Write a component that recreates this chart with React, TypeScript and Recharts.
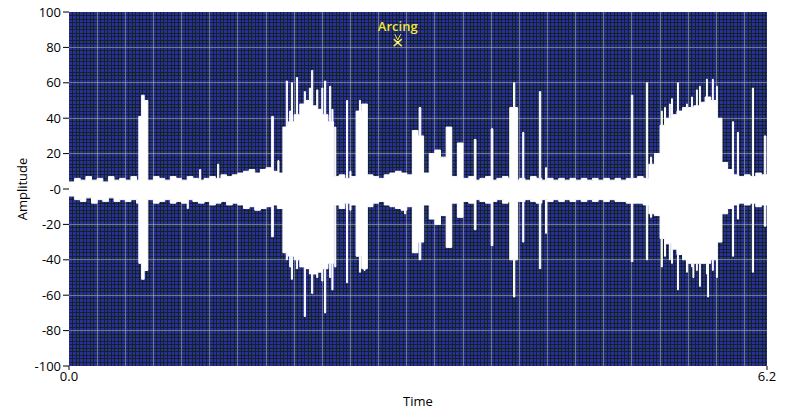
import {
  ComposedChart,
  Area,
  XAxis,
  YAxis,
  CartesianGrid,
  ReferenceDot,
} from "recharts";

// base noise band, one value per 0.05 s slot
const STEP = 0.05;
const bandHi = [
  4, 6, 5, 7, 5, 6, 4, 7, 5, 6,
  5, 7, 5, 6, 5, 7, 6, 5, 7, 6,
  5, 7, 6, 5, 6, 7, 6, 8, 7, 8,
  9, 10, 11, 9, 11, 12, 10, 9, 35, 38,
  42, 48, 50, 47, 45, 42, 38, 7, 8, 6,
  7, 44, 48, 8, 7, 6, 8, 9, 10, 9,
  8, 33, 30, 9, 20, 22, 18, 35, 7, 26,
  6, 7, 5, 6, 7, 5, 6, 7, 6, 5,
  6, 5, 7, 6, 5, 6, 5, 6, 5, 6,
  5, 6, 5, 6, 5, 6, 5, 6, 5, 6,
  6, 7, 6, 14, 20, 36, 40, 42, 44, 46,
  46, 47, 49, 52, 50, 40, 15, 11, 8, 7,
  8, 7, 9, 8,
];
const bandLo = [
  -4, -6, -7, -5, -8, -6, -7, -5, -7, -6,
  -7, -6, -8, -7, -6, -8, -7, -6, -8, -7,
  -8, -6, -7, -8, -7, -9, -8, -7, -9, -8,
  -9, -11, -10, -12, -11, -10, -9, -11, -36, -38,
  -40, -44, -45, -48, -47, -45, -42, -9, -11, -8,
  -9, -38, -45, -10, -8, -7, -9, -10, -11, -12,
  -10, -36, -30, -9, -17, -20, -15, -33, -8, -16,
  -7, -8, -6, -7, -8, -7, -6, -8, -7, -7,
  -7, -6, -7, -8, -6, -7, -6, -7, -6, -7,
  -6, -7, -6, -7, -6, -7, -6, -7, -7, -8,
  -8, -8, -9, -14, -15, -28, -31, -34, -37, -40,
  -42, -42, -42, -42, -40, -30, -14, -11, -9, -8,
  -9, -8, -10, -9,
];

// individual spikes: start, end (s), peak high, peak low
const spikeStart = [
  0.62, 0.645, 0.668, 1.05, 1.16, 1.32, 1.8, 1.855,
  1.93, 1.96, 1.975, 2.02, 2.09, 2.135, 2.155, 2.2, 2.245, 2.27, 2.315, 2.335, 2.36,
  2.465, 2.495, 2.58, 2.62, 2.98,
  3.11, 3.6, 3.75, 3.915, 3.948, 4.03, 4.178, 4.233,
  4.995, 5.128, 5.165,
  5.262, 5.29, 5.333, 5.352, 5.405, 5.485, 5.53, 5.542, 5.573, 5.6, 5.662, 5.673, 5.715, 5.751,
  5.893, 5.937, 6.07, 6.176,
];
const spikeEnd = [
  0.645, 0.668, 0.7, 1.06, 1.17, 1.33, 1.815, 1.865,
  1.94, 1.97, 1.985, 2.03, 2.1, 2.145, 2.165, 2.21, 2.255, 2.28, 2.325, 2.345, 2.37,
  2.475, 2.505, 2.59, 2.63, 2.99,
  3.125, 3.615, 3.765, 3.985, 3.96, 4.04, 4.19, 4.243,
  5.008, 5.14, 5.175,
  5.27, 5.298, 5.341, 5.36, 5.413, 5.493, 5.538, 5.55, 5.581, 5.608, 5.67, 5.681, 5.723, 5.759,
  5.903, 5.947, 6.08, 6.19,
];
const spikeHi = [
  41, 53, 50, 0, 11, 14, 41, 16,
  61, 44, 60, 63, 55, 57, 67, 56, 57, 61, 58, 45, 35,
  50, 10, 50, 47, 0,
  46, 28, 34, 46, 60, 32, 55, 12,
  53, 60, 18,
  44, 46, 48, 51, 60, 48, 52, 45, 56, 58, 62, 50, 62, 58,
  38, 32, 57, 30,
];
const spikeLo = [
  -42, -51, -46, -11, 0, 0, -27, -10,
  -40, -44, -51, -45, -72, -48, -59, -50, -52, -70, -50, -57, -44,
  -53, -12, -47, -46, -14,
  -40, -23, -32, -40, -61, -30, -45, -25,
  -41, -40, -16,
  -44, -38, -40, -42, -57, -47, -44, -50, -46, -55, -48, -61, -46, -50,
  -38, -17, -47, -21,
];

const T_MAX = 6.2;
const yTicks = [-100, -80, -60, -40, -20, 0, 20, 40, 60, 80, 100];
const xTicks = [0, 6.2];
const ARC_T = 2.92;
const ARC_V = 83;

// grid divisions: major every 0.25 s / 20 units, 8 and 10 minor steps inside
const MAJOR_X = 0.25;
const MAJOR_Y = 20;

function bandAt(t: number) {
  const i = Math.min(bandHi.length - 1, Math.floor(t / STEP + 1e-9));
  return [bandLo[i], bandHi[i]];
}

function valueAt(t: number) {
  let [lo, hi] = bandAt(t);
  for (let s = 0; s < spikeStart.length; s++) {
    if (t >= spikeStart[s] - 1e-9 && t < spikeEnd[s] - 1e-9) {
      lo = Math.min(lo, spikeLo[s]);
      hi = Math.max(hi, spikeHi[s]);
    }
  }
  return [lo, hi];
}

const breaks = Array.from(
  new Set([
    ...bandHi.map((_, i) => +(i * STEP).toFixed(4)),
    ...spikeStart,
    ...spikeEnd,
    T_MAX,
  ])
).sort((a, b) => a - b);

const data = breaks.map((t) => ({ t, range: valueAt(t) }));

// crisp 1px grid lines
const crisp = (v: number) => Math.floor(v) + 0.5;

function gridX(step: number) {
  return ({ offset }: any) => {
    const px = (offset.width * step) / T_MAX;
    const out: number[] = [];
    for (let x = offset.left + px; x < offset.left + offset.width - 1; x += px) out.push(crisp(x));
    return out;
  };
}
function gridY(step: number) {
  return ({ offset }: any) => {
    const px = (offset.height * step) / 200;
    const out: number[] = [];
    for (let y = offset.top + px; y < offset.top + offset.height - 1; y += px) out.push(crisp(y));
    return out;
  };
}

const font = "'Open Sans', sans-serif";

function ArcMarker(props: any) {
  const { cx, cy } = props;
  const c = "#f2e640";
  return (
    <g>
      <text
        x={cx}
        y={cy - 11}
        textAnchor="middle"
        fill={c}
        fontSize={13}
        fontWeight={600}
        fontFamily={font}
      >
        Arcing
      </text>
      <path
        d={`M${cx - 3},${cy - 8} L${cx},${cy - 2} L${cx + 3},${cy - 8}`}
        stroke={c}
        fill="none"
        strokeWidth={1}
      />
      <path
        d={`M${cx - 4},${cy - 3} L${cx + 4},${cy + 4} M${cx + 4},${cy - 3} L${cx - 4},${cy + 4}`}
        stroke={c}
        strokeWidth={1.5}
      />
      <circle cx={cx} cy={cy} r={1.2} fill="#ffffff" />
    </g>
  );
}

export default function App() {
  return (
    <div style={{ position: "absolute", left: 0, top: 0, background: "#fff" }}>
      <ComposedChart
        width={800}
        height={412}
        data={data}
        margin={{ top: 12, right: 33, bottom: 0, left: 0 }}
        style={{ fontFamily: font }}
      >
        <CartesianGrid
          fill="#2c2c9c"
          stroke="#0b2414"
          strokeOpacity={0.85}
          verticalCoordinatesGenerator={gridX(MAJOR_X / 8)}
          horizontalCoordinatesGenerator={gridY(MAJOR_Y / 10)}
        />
        <CartesianGrid
          stroke="#b8c8b0"
          strokeOpacity={0.55}
          verticalCoordinatesGenerator={gridX(MAJOR_X)}
          horizontalCoordinatesGenerator={gridY(MAJOR_Y)}
        />
        <XAxis
          dataKey="t"
          type="number"
          domain={[0, T_MAX]}
          ticks={xTicks}
          tickFormatter={(v: number) => v.toFixed(1)}
          axisLine={false}
          tickLine={{ stroke: "#000" }}
          tickSize={4}
          tick={{ fill: "#000", fontSize: 13 }}
          height={46}
          label={{ value: "Time", position: "insideBottom", offset: 6, fill: "#000", fontSize: 13 }}
        />
        <YAxis
          type="number"
          domain={[-100, 100]}
          ticks={yTicks}
          tickFormatter={(v: number) => (v === 0 ? "-0" : String(v))}
          axisLine={false}
          tickLine={{ stroke: "#000" }}
          tickSize={6}
          tickMargin={2}
          tick={{ fill: "#000", fontSize: 13 }}
          width={69}
          label={{
            value: "Amplitude",
            angle: -90,
            position: "insideLeft",
            offset: 22,
            fill: "#000",
            fontSize: 13,
            style: { textAnchor: "middle" },
          }}
        />
        <Area
          type="stepAfter"
          dataKey="range"
          stroke="#ffffff"
          strokeWidth={1}
          fill="#ffffff"
          fillOpacity={1}
          dot={false}
          activeDot={false}
          isAnimationActive={false}
        />
        <ReferenceDot x={ARC_T} y={ARC_V} r={3} shape={ArcMarker} />
      </ComposedChart>
    </div>
  );
}
